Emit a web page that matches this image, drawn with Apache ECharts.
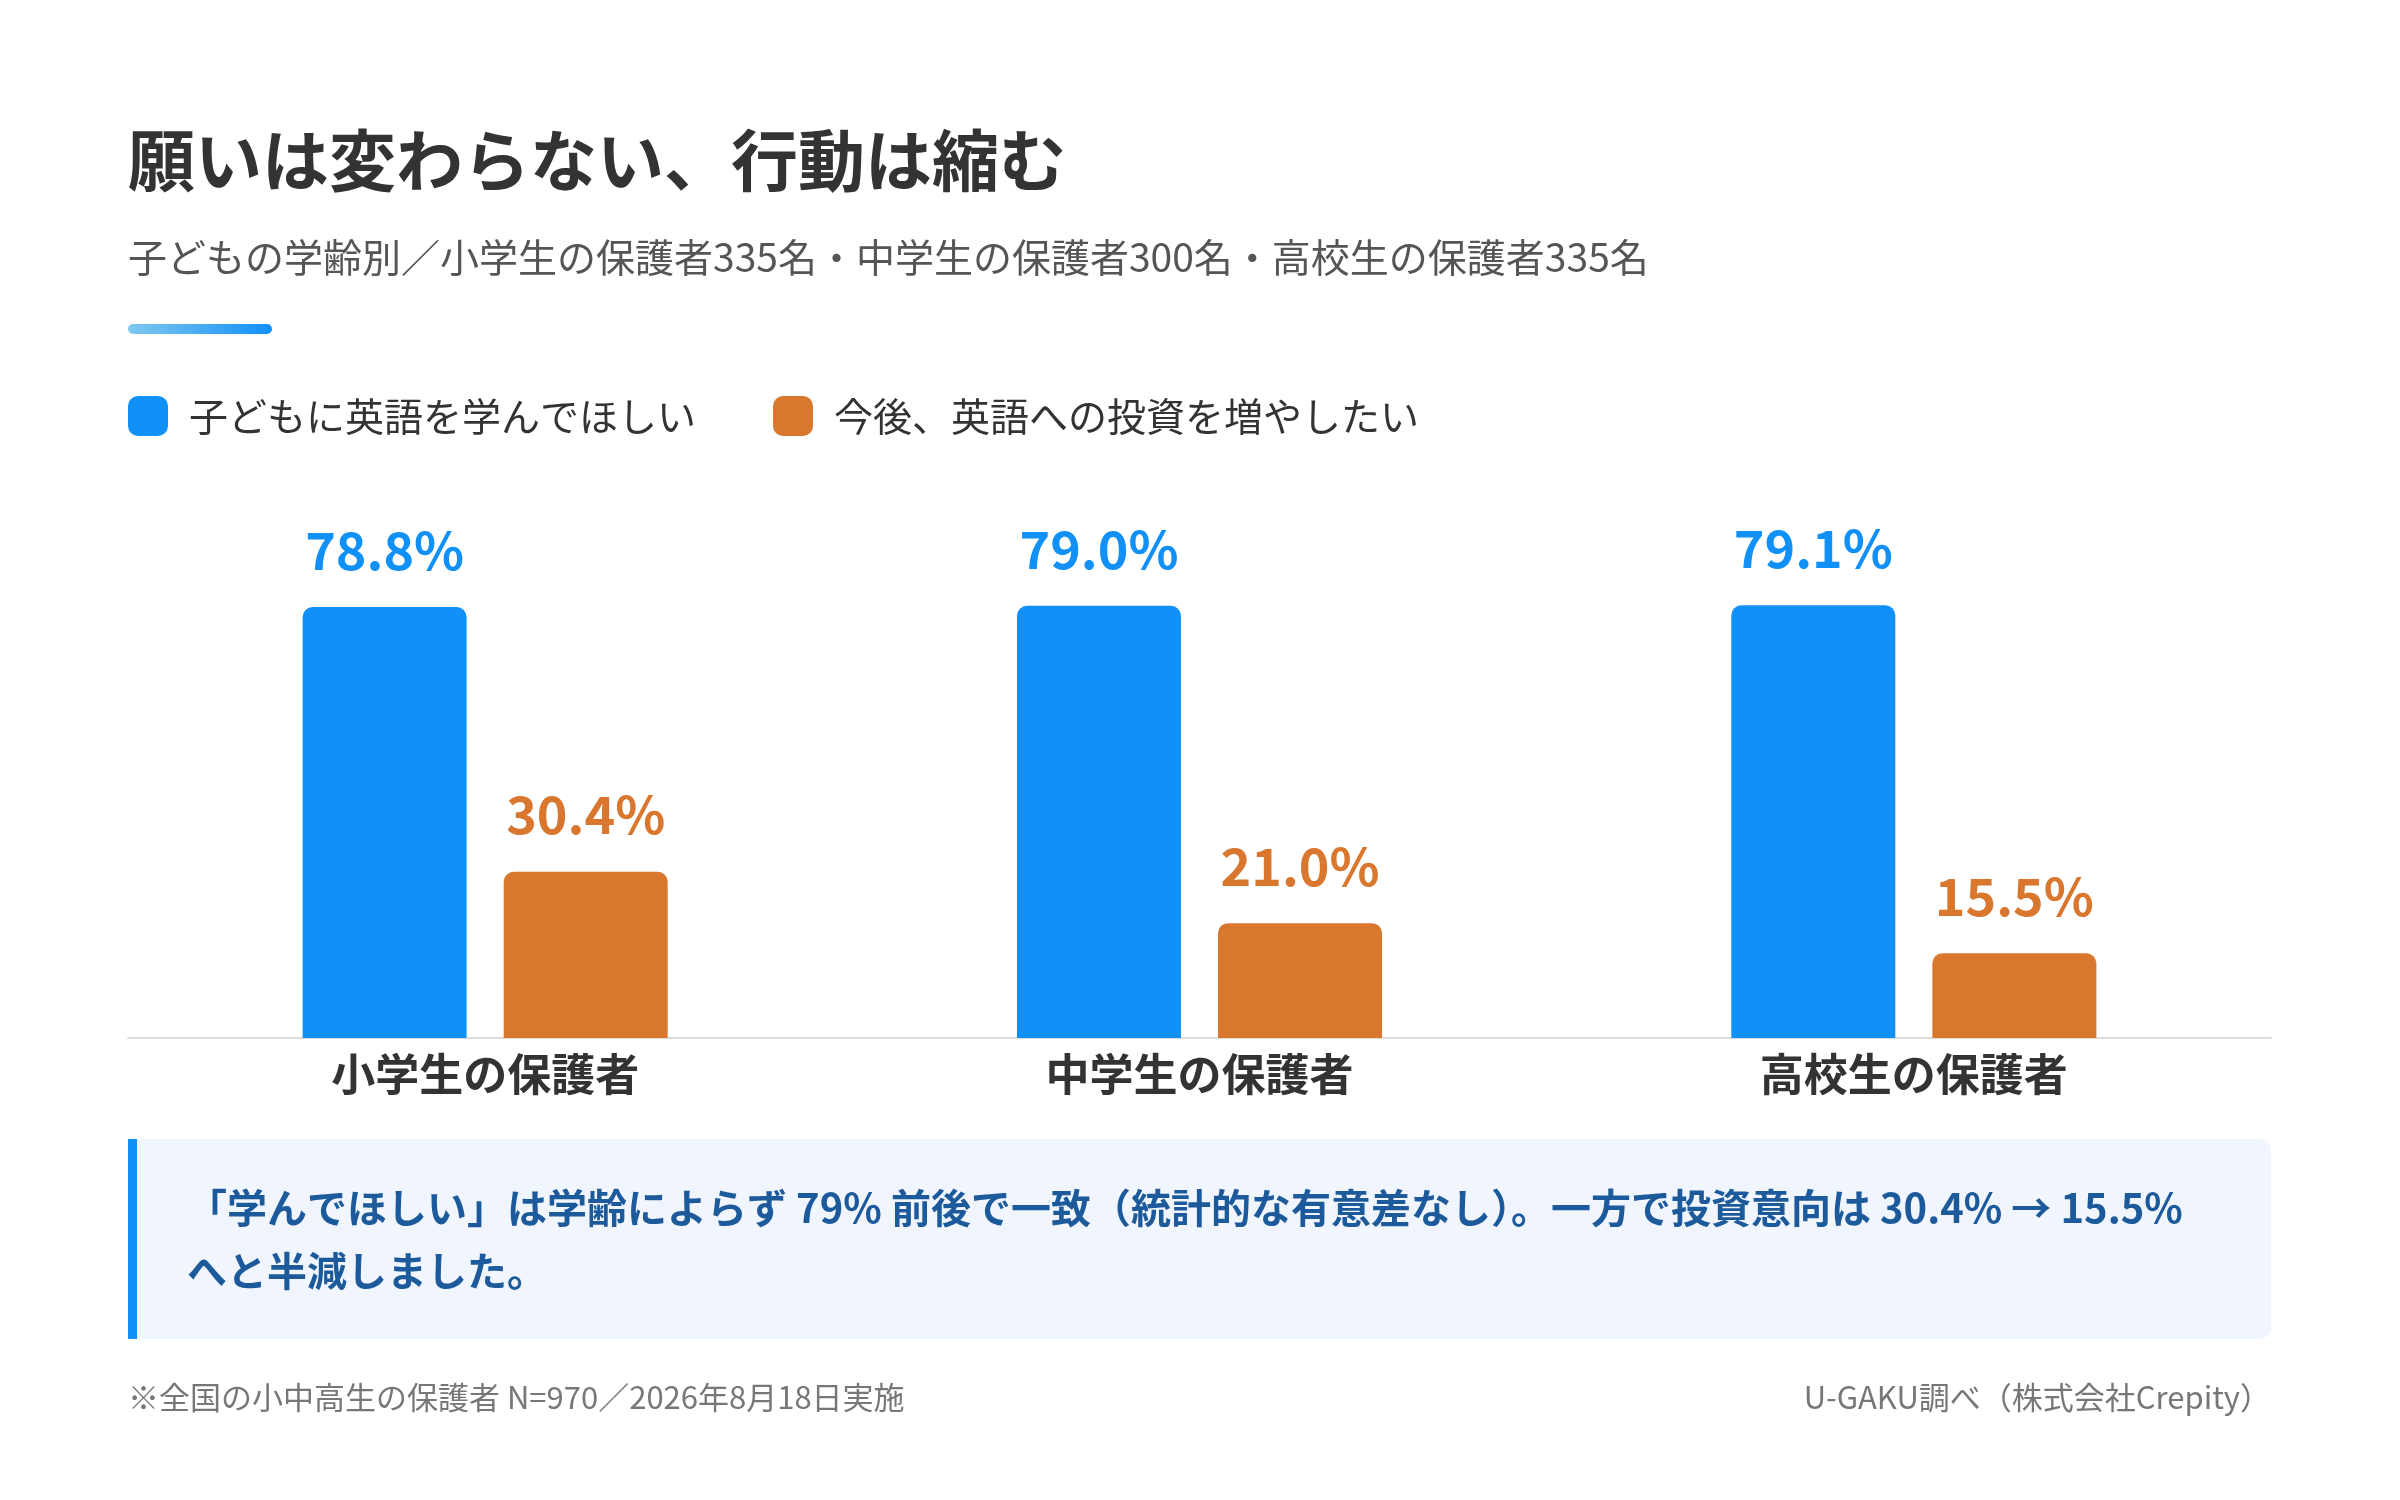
<!DOCTYPE html>
<html>
<head>
<meta charset="utf-8">
<script src="https://cdn.jsdelivr.net/npm/echarts@6/dist/echarts.min.js"></script>
<style>
  html, body { margin: 0; padding: 0; background: #fff; }
  #chart { width: 2400px; height: 1500px; }
</style>
</head>
<body>
<div id="chart"></div>
<script>
// 学齢別カテゴリ
var categories = ['小学生の保護者', '中学生の保護者', '高校生の保護者'];
// 系列名
var seriesNames = ['子どもに英語を学んでほしい', '今後、英語への投資を増やしたい'];
// 学んでほしい（%）
var wantLearn = [78.8, 79.0, 79.1];
// 投資を増やしたい（%）
var investMore = [30.4, 21.0, 15.5];

var titleText = '願いは変わらない、行動は縮む';
var subText = '子どもの学齢別／小学生の保護者335名・中学生の保護者300名・高校生の保護者335名';
var noteText = '「学んでほしい」は学齢によらず 79% 前後で一致（統計的な有意差なし）。一方で投資意向は 30.4% → 15.5%\nへと半減しました。';
var footLeft = '※全国の小中高生の保護者 N=970／2026年8月18日実施';
var footRight = 'U-GAKU調べ（株式会社Crepity）';

var FONT = '"Noto Sans CJK JP", "Noto Sans", sans-serif';
var BLUE = '#1190f8';
var ORANGE = '#d9772f';

var myChart = echarts.init(document.getElementById('chart'));

function pct(p) {
	return p.value.toFixed(1) + '%';
}

var option = {
	animation: false,
	backgroundColor: '#ffffff',
	textStyle: { fontFamily: FONT },
	legend: {
		left: 128,
		top: 396,
		padding: 0,
		itemWidth: 40,
		itemHeight: 40,
		itemGap: 77,
		icon: 'roundRect',
		selectedMode: false,
		textStyle: { fontSize: 39, color: '#333333', fontFamily: FONT, padding: [0, 0, 0, 16] },
		data: seriesNames
	},
	grid: { left: 128, right: 129, top: 491, bottom: 462, containLabel: false },
	xAxis: {
		type: 'category',
		data: categories,
		axisLine: { lineStyle: { color: '#dddddd', width: 2 } },
		axisTick: { show: false },
		axisLabel: { fontSize: 44, fontWeight: 'bold', color: '#333333', margin: 14, fontFamily: FONT }
	},
	yAxis: {
		type: 'value',
		min: 0,
		max: 100,
		show: false
	},
	series: [
		{
			name: seriesNames[0],
			type: 'bar',
			data: wantLearn,
			barWidth: 164,
			barGap: '22.6%',
			itemStyle: { color: BLUE, borderRadius: [10, 10, 0, 0] },
			label: {
				show: true, position: 'top', distance: 31, formatter: pct,
				fontSize: 52, fontWeight: 'bold', color: BLUE, fontFamily: FONT
			}
		},
		{
			name: seriesNames[1],
			type: 'bar',
			data: investMore,
			barWidth: 164,
			itemStyle: { color: ORANGE, borderRadius: [10, 10, 0, 0] },
			label: {
				show: true, position: 'top', distance: 31, formatter: pct,
				fontSize: 52, fontWeight: 'bold', color: ORANGE, fontFamily: FONT
			}
		}
	],
	graphic: [
		// タイトル
		{
			type: 'text', x: 128, y: 161,
			style: { text: titleText, fill: '#333333', fontSize: 67, fontWeight: 'bold', fontFamily: FONT,
				align: 'left', verticalAlign: 'middle', textAlign: 'left', textVerticalAlign: 'middle' }
		},
		{
			type: 'text', x: 128, y: 257,
			style: { text: subText, fill: '#555555', fontSize: 39, fontFamily: FONT,
				align: 'left', verticalAlign: 'middle', textAlign: 'left', textVerticalAlign: 'middle' }
		},
		// アクセントバー
		{
			type: 'rect',
			shape: { x: 128, y: 324, width: 144, height: 10, r: 5 },
			style: {
				fill: new echarts.graphic.LinearGradient(0, 0, 1, 0, [
					{ offset: 0, color: '#80c8ee' },
					{ offset: 1, color: BLUE }
				])
			}
		},
		// 注記ボックス
		{
			type: 'rect',
			shape: { x: 128, y: 1139, width: 2143, height: 200, r: [0, 12, 12, 0] },
			style: { fill: '#f1f6fe' }
		},
		{
			type: 'rect',
			shape: { x: 128, y: 1139, width: 9, height: 200 },
			style: { fill: BLUE }
		},
		{
			type: 'text', x: 187, y: 1176,
			style: { text: noteText, fill: '#1d5a9b', fontSize: 40, fontWeight: 'bold', fontFamily: FONT,
				lineHeight: 63, align: 'left', verticalAlign: 'top', textAlign: 'left', textVerticalAlign: 'top' }
		},
		// フッター
		{
			type: 'text', x: 128, y: 1397,
			style: { text: footLeft, fill: '#777777', fontSize: 31, fontFamily: FONT,
				align: 'left', verticalAlign: 'middle', textAlign: 'left', textVerticalAlign: 'middle' }
		},
		{
			type: 'text', x: 2271, y: 1397,
			style: { text: footRight, fill: '#777777', fontSize: 31, fontFamily: FONT,
				align: 'right', verticalAlign: 'middle', textAlign: 'right', textVerticalAlign: 'middle' }
		}
	]
};

myChart.setOption(option);
</script>
</body>
</html>
